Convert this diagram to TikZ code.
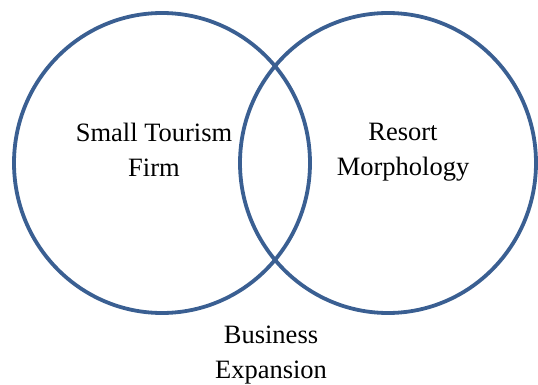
\documentclass[tikz,border=0pt]{standalone}
\usepackage{fontspec}
\setmainfont{Liberation Serif}
\usetikzlibrary{shapes.geometric, positioning}
\definecolor{vennblue}{HTML}{3A5F92}
\tikzstyle{venn-set}=[
ellipse,
draw=vennblue,
line width=3.8pt,
minimum width=296pt,
minimum height=300pt,
]
\tikzstyle{venn-label}=[
align=center,
font=\fontsize{26.5}{35}\selectfont,
inner sep=0pt,
]

\begin{document}
\begin{tikzpicture}
        [x=1pt, y=-1pt]
        \useasboundingbox (0,0) rectangle (538,385);
        \begin{scope}[every node/.style=venn-set]
          \node (firm) at (162,163) {};
          \node (resort) at (388,163) {};
        \end{scope}

        \begin{scope}[every node/.style=venn-label]
          \node (firmtext) at (154,150) {Small Tourism\\Firm};
          \node (resorttext) at (403,152) {Resort\\Morphology};
          \node (business) at (271,355) {Business\\Expansion};
        \end{scope}
      \end{tikzpicture}
\end{document}
